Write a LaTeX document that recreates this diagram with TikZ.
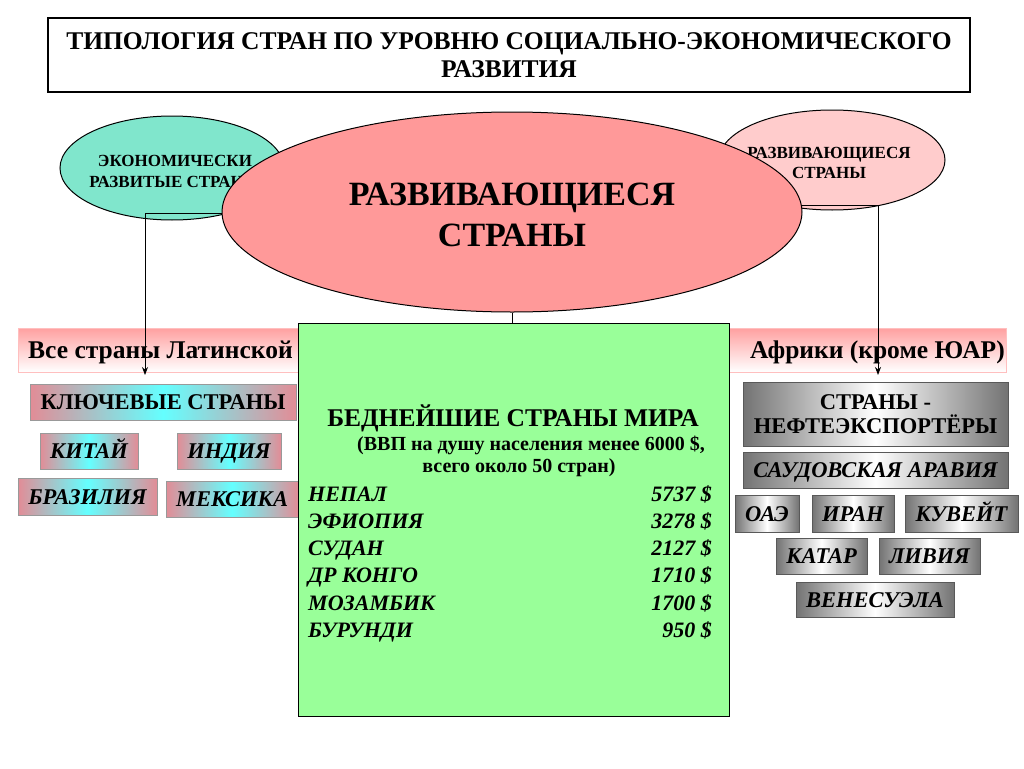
\documentclass[tikz,border=0pt]{standalone}
\usepackage{fontspec}
\setmainfont{Liberation Serif}
\usetikzlibrary{shapes.geometric,arrows.meta}
\definecolor{tealE}{RGB}{128,230,204}
\definecolor{pinkE}{RGB}{255,204,204}
\definecolor{redE}{RGB}{255,153,153}
\definecolor{greenB}{RGB}{153,255,153}
\definecolor{bandP}{RGB}{255,160,160}
\definecolor{boxP}{RGB}{226,140,150}
\definecolor{boxC}{RGB}{100,255,255}
\definecolor{boxG}{RGB}{115,115,115}
\newcommand{\fsz}[1]{\fontsize{#1}{#1}\selectfont}
\tikzset{
  ell/.style={ellipse,draw=black,line width=1pt,inner sep=0pt,align=center,font=\bfseries},
  keybox/.style={rectangle,draw=gray!80,line width=0.6pt,left color=boxP,right color=boxP,middle color=boxC,inner sep=0pt,text height=15pt,text depth=0pt,font=\fsz{22.5}\bfseries\itshape},
  oilbase/.style={rectangle,draw=gray!70!black,line width=0.6pt,left color=boxG,right color=boxG,middle color=white,inner sep=0pt,align=center,font=\fsz{22.5}\bfseries\itshape},
  oilbox/.style={oilbase,text height=15pt,text depth=0pt},
  conn/.style={draw=black,line width=0.8pt},
  arr/.style={conn,-{Stealth[length=8pt,width=6pt]}},
  lst/.style={font=\fsz{22}\bfseries\itshape,inner sep=0pt}
}
\begin{document}
\begin{tikzpicture}[x=1pt,y=-1pt]
\useasboundingbox (0,0) rectangle (1024,768);
% title
\node[draw=black,line width=2pt,minimum width=922pt,minimum height=74pt,inner sep=0pt,align=center,font=\fsz{25.5}\bfseries] (title) at (509,55)
  {ТИПОЛОГИЯ СТРАН ПО УРОВНЮ СОЦИАЛЬНО-ЭКОНОМИЧЕСКОГО\\[3pt] РАЗВИТИЯ};
% band
\node[rectangle,draw=red!25,top color=bandP,bottom color=white,minimum width=988pt,minimum height=44pt,inner sep=0pt] (band) at (512,350) {};
\node[anchor=west,inner sep=0pt,font=\fsz{25.5}\bfseries] (bandL) at (28,352) {Все страны Латинской};
\node[anchor=east,inner sep=0pt,font=\fsz{25.5}\bfseries] (bandR) at (1005,352) {Африки (кроме ЮАР)};
% small ellipses
\node[ell,fill=tealE,minimum width=224pt,minimum height=104pt] (leftE) at (172,168) {};
\node[align=center,font=\fsz{17}\bfseries,inner sep=0pt] (leftT) at (175,171) {ЭКОНОМИЧЕСКИ\\[4pt] РАЗВИТЫЕ СТРАНЫ};
\node[ell,fill=pinkE,minimum width=226pt,minimum height=100pt] (rightE) at (832,160) {};
\node[align=center,font=\fsz{17}\bfseries,inner sep=0pt] (rightT) at (829,163) {РАЗВИВАЮЩИЕСЯ\\[3pt] СТРАНЫ};
% connectors
\coordinate (la) at (145,375);
\coordinate (ra) at (878,375);
\draw[arr] (512,213) coordinate (lstart) -| (la);
\draw[arr] (512,205) coordinate (rstart) -| (ra);
% big ellipse
\node[ell,fill=redE,minimum width=580pt,minimum height=200pt] (bigE) at (512,212) {};
\node[align=center,inner sep=0pt,font=\fsz{34}\bfseries] (bigT) at (512,215) {РАЗВИВАЮЩИЕСЯ\\[7pt] СТРАНЫ};
% left boxes
\node[keybox,font=\fsz{22.5}\bfseries,minimum width=266pt,minimum height=36pt] (key) at (163,402) {КЛЮЧЕВЫЕ СТРАНЫ};
\node[keybox,minimum width=98pt,minimum height=36pt] (china) at (89,451) {КИТАЙ};
\node[keybox,minimum width=104pt,minimum height=36pt] (india) at (229,451) {ИНДИЯ};
\node[keybox,minimum width=139pt,minimum height=37pt] (brazil) at (87.5,496.5) {БРАЗИЛИЯ};
\node[keybox,minimum width=132pt,minimum height=36pt] (mexico) at (232,499) {МЕКСИКА};
% green box
\node[rectangle,draw=black,line width=1pt,fill=greenB,minimum width=431pt,minimum height=393pt,inner sep=0pt] (green) at (513.5,519.5) {};
\draw[conn] (bigE.south) -- (bigE.south |- green.north);
\node[font=\fsz{25.5}\bfseries,inner sep=0pt] (gT) at (513,418) {БЕДНЕЙШИЕ СТРАНЫ МИРА};
\node[font=\fsz{20}\bfseries,inner sep=0pt] (gS1) at (531,445) {(ВВП на душу населения менее 6000 \$,};
\node[font=\fsz{20}\bfseries,inner sep=0pt] (gS2) at (519,468) {всего около 50 стран)};
\foreach \n/\v/\y in {НЕПАЛ/5737/494, ЭФИОПИЯ/3278/521, СУДАН/2127/548, ДР КОНГО/1710/575, МОЗАМБИК/1700/603, БУРУНДИ/950/630}{
  \node[lst,anchor=base west] (n\y) at (308,\y+7) {\n};
  \node[lst,anchor=base east] (v\y) at (712,\y+7) {\v\ \$};
}
% right boxes
\node[oilbase,font=\fsz{22.5}\bfseries,minimum width=265pt,minimum height=64pt] (oil) at (875.5,414) {СТРАНЫ -\\[2pt] НЕФТЕЭКСПОРТЁРЫ};
\node[oilbox,minimum width=265pt,minimum height=36pt] (saudi) at (875.5,470) {САУДОВСКАЯ АРАВИЯ};
\node[oilbox,minimum width=64pt,minimum height=37pt] (uae) at (767,513.5) {ОАЭ};
\node[oilbox,minimum width=82pt,minimum height=37pt] (iran) at (853,513.5) {ИРАН};
\node[oilbox,minimum width=113pt,minimum height=37pt] (kuwait) at (961.5,513.5) {КУВЕЙТ};
\node[oilbox,minimum width=91pt,minimum height=36pt] (qatar) at (821.5,556) {КАТАР};
\node[oilbox,minimum width=101pt,minimum height=36pt] (libya) at (929.5,556) {ЛИВИЯ};
\node[oilbox,minimum width=158pt,minimum height=35pt] (venez) at (875,599.5) {ВЕНЕСУЭЛА};
\end{tikzpicture}
\end{document}
